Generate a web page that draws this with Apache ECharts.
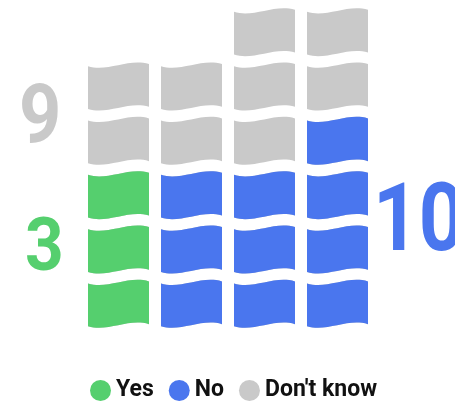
<!DOCTYPE html>
<html>
<head>
<meta charset="utf-8">
<script src="https://cdn.jsdelivr.net/npm/echarts@6/dist/echarts.min.js"></script>
<style>
  html, body { margin: 0; padding: 0; background: #fff; }
  #chart { width: 455px; height: 401px; }
</style>
</head>
<body>
<div id="chart"></div>
<script>
// Four stacks of flags; each flag is one respondent.
const columns = ['c1', 'c2', 'c3', 'c4'];
const yesCounts = [3, 0, 0, 0];
const noCounts = [0, 3, 3, 4];
const dontKnowCounts = [2, 2, 3, 2];
const answerNames = ['Yes', 'No', "Don't know"];
const answerColors = ['#55CF6E', '#4A76EE', '#C9C9C9'];

const FONT = "Roboto, 'Liberation Sans', sans-serif";
const FLAG = 'path://M0,5 C20,11 40,-3 61,3 L61,44 C40,38 20,52 0,46 Z';

const sum = arr => arr.reduce((s, v) => s + v, 0);
const totals = columns.map((_, i) => yesCounts[i] + noCounts[i] + dontKnowCounts[i]);

// One flag per unit: the repeat count and the bounding length both equal the value,
// so every stack shares the same flag pitch and the grey and coloured flags line up.
function flagItems(values) {
  return values.map(v => v > 0 ? { value: v, symbolRepeat: v, symbolBoundingData: v } : '-');
}

function flagSeries(name, color, values, z) {
  return {
    name: name,
    type: 'pictorialBar',
    symbol: FLAG,
    symbolSize: [61, 48],
    symbolMargin: '3!',
    symbolPosition: 'start',
    barWidth: 61,
    barGap: '-100%',
    z: z,
    itemStyle: { color: color },
    data: flagItems(values),
    silent: true
  };
}

// Big total figure beside each group, horizontally condensed.
function totalLabel(value, color, size, x, y, sx) {
  return {
    type: 'text', x: x, y: y, scaleX: sx, silent: true,
    style: {
      text: String(value), fill: color,
      font: 'bold ' + size + 'px ' + FONT,
      textAlign: 'left', textVerticalAlign: 'middle'
    }
  };
}

const chart = echarts.init(document.getElementById('chart'), null, { renderer: 'canvas' });

chart.setOption({
  animation: false,
  backgroundColor: '#fff',
  grid: { left: 82, width: 292, top: 5, height: 326, containLabel: false },
  xAxis: { type: 'category', data: columns, show: false },
  yAxis: { type: 'value', min: 0, max: 6, show: false },
  legend: {
    data: answerNames,
    left: 85,
    top: 374,
    icon: 'circle',
    itemWidth: 21,
    itemHeight: 21,
    itemGap: 15,
    textStyle: { fontFamily: FONT, fontWeight: 'bold', fontSize: 23, color: '#111' }
  },
  series: [
    flagSeries(answerNames[2], answerColors[2], totals, 1),
    flagSeries(answerNames[0], answerColors[0], yesCounts, 2),
    flagSeries(answerNames[1], answerColors[1], noCounts, 2)
  ],
  graphic: [
    totalLabel(sum(dontKnowCounts), answerColors[2], 82, 19, 121, 0.9),
    totalLabel(sum(yesCounts), answerColors[0], 75, 25, 251, 0.9),
    totalLabel(sum(noCounts), answerColors[1], 94, 373, 226, 0.85)
  ]
});
</script>
</body>
</html>
